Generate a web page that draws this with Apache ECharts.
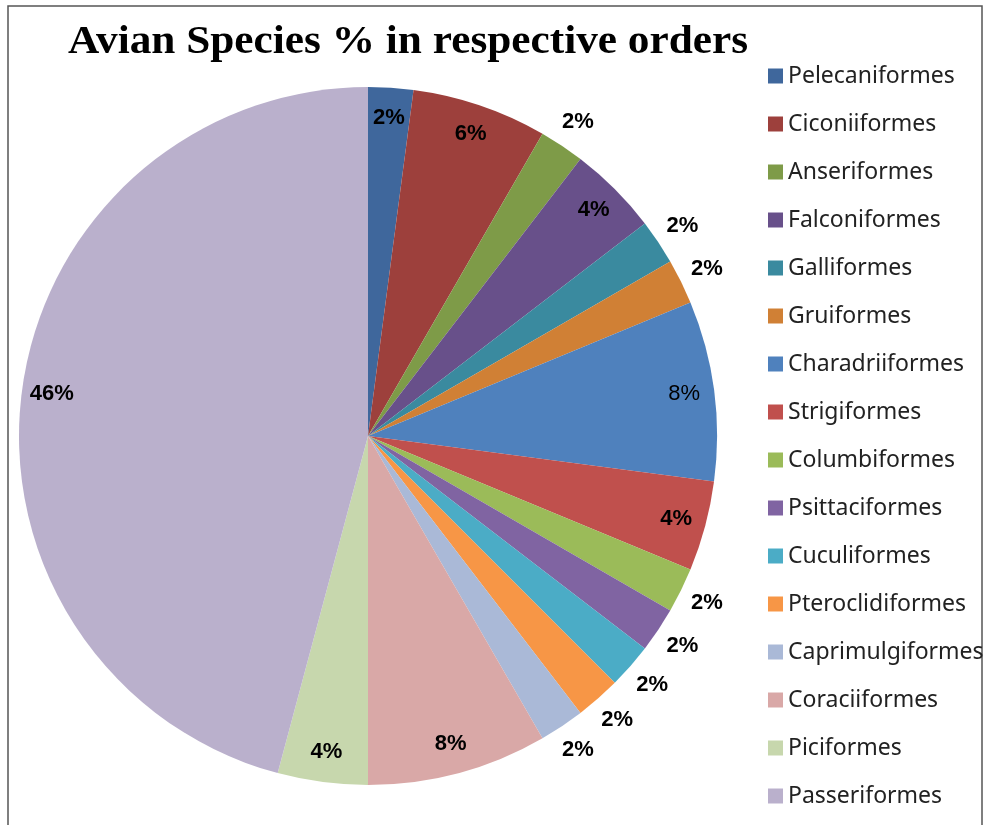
<!DOCTYPE html>
<html>
<head>
<meta charset="utf-8">
<script src="https://cdn.jsdelivr.net/npm/echarts@6/dist/echarts.min.js"></script>
<style>
  html, body { margin: 0; padding: 0; background: #fff; }
  #chart { width: 984px; height: 825px; }
</style>
</head>
<body>
<div id="chart"></div>
<script>
// bird orders and species counts (labels show share of total)
var orders = ['Pelecaniformes', 'Ciconiiformes', 'Anseriformes', 'Falconiformes', 'Galliformes',
  'Gruiformes', 'Charadriiformes', 'Strigiformes', 'Columbiformes', 'Psittaciformes',
  'Cuculiformes', 'Pteroclidiformes', 'Caprimulgiformes', 'Coraciiformes', 'Piciformes', 'Passeriformes'];
var counts = [1, 3, 1, 2, 1, 1, 4, 2, 1, 1, 1, 1, 1, 4, 2, 22];
// where Excel put each data label
var labelPlace = ['in', 'in', 'out', 'in', 'out', 'out', 'in', 'in', 'out', 'out',
  'out', 'out', 'out', 'in', 'in', 'in'];
var colors = ['#3F679C', '#9D403C', '#7E9B48', '#68508A', '#3A8A9F', '#D08035', '#4F81BD', '#C0504D',
  '#9BBB59', '#8064A2', '#4BACC6', '#F79646', '#AAB9D7', '#D9A8A7', '#C7D7AD', '#BAB0CC'];

var total = counts.reduce(function (a, b) { return a + b; }, 0);

var myChart = echarts.init(document.getElementById('chart'));

var center = [368, 436];

function labelSeries(place, radius) {
  return {
    type: 'pie',
    silent: true,
    center: center,
    radius: radius,
    startAngle: 90,
    avoidLabelOverlap: false,
    legendHoverLink: false,
    itemStyle: { color: 'rgba(0,0,0,0)', borderWidth: 0 },
    emphasis: { disabled: true },
    labelLine: { show: false },
    label: {
      position: 'inside',
      color: '#000',
      fontFamily: 'Liberation Sans',
      fontSize: 22,
      fontWeight: 'bold',
      formatter: function (p) { return Math.round(p.value / total * 100) + '%'; }
    },
    data: orders.map(function (name, i) {
      var item = { name: name, value: counts[i] };
      item.label = { show: labelPlace[i] === place };
      if (name === 'Charadriiformes') item.label.fontWeight = 'normal';
      return item;
    })
  };
}

myChart.setOption({
  backgroundColor: '#fff',
  animation: false,
  color: colors,
  graphic: [
    {
      type: 'rect',
      shape: { x: 8, y: 6, width: 974, height: 840 },
      style: { fill: 'none', stroke: '#555', lineWidth: 1.5 },
      silent: true
    },
    {
      type: 'text',
      x: 408,
      y: 43,
      scaleX: 1.11,
      style: {
        text: 'Avian Species % in respective orders',
        fill: '#000',
        font: 'bold 39px "Liberation Serif"',
        textAlign: 'center',
        textVerticalAlign: 'middle'
      },
      silent: true
    }
  ],
  legend: {
    orient: 'vertical',
    left: 763,
    top: 59,
    padding: 5,
    itemWidth: 15,
    itemHeight: 15,
    itemGap: 24,
    icon: 'rect',
    selectedMode: false,
    textStyle: {
      fontFamily: 'Noto Sans',
      fontSize: 23,
      lineHeight: 24,
      color: '#222'
    },
    data: orders
  },
  series: [
    {
      type: 'pie',
      center: center,
      radius: 349,
      startAngle: 90,
      avoidLabelOverlap: false,
      label: { show: false },
      labelLine: { show: false },
      itemStyle: { borderWidth: 0 },
      emphasis: { disabled: true },
      data: orders.map(function (name, i) {
        return { name: name, value: counts[i] };
      })
    },
    labelSeries('in', [300, 332]),
    labelSeries('out', [360, 390])
  ]
});
</script>
</body>
</html>
